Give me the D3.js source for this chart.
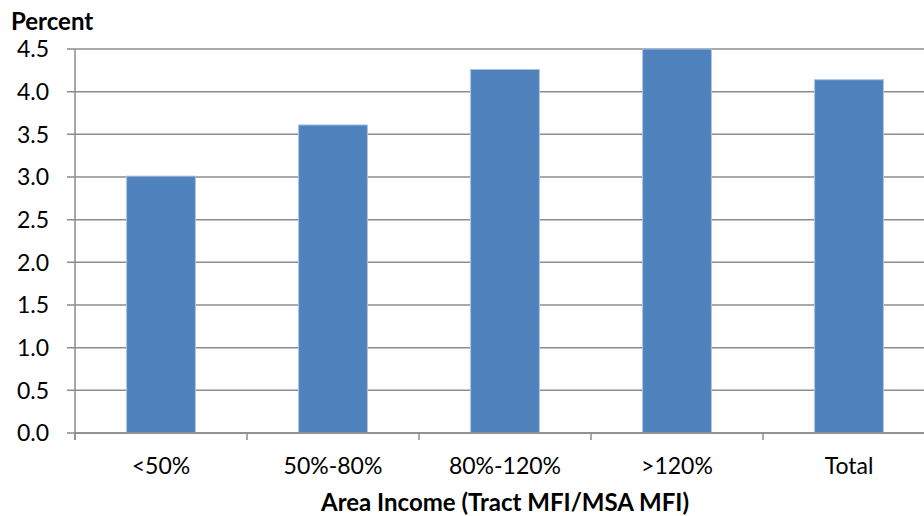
<!DOCTYPE html>
<html>
<head>
<meta charset="utf-8">
<script src="https://cdn.jsdelivr.net/npm/d3@7"></script>
<style>
  html, body { margin: 0; padding: 0; background: #fff; }
  svg { display: block; font-family: Lato, "Open Sans", sans-serif; }
</style>
</head>
<body>
<svg id="chart" width="924" height="516"></svg>
<script>
// Share by tract income group
const categories = ["<50%", "50%-80%", "80%-120%", ">120%", "Total"];
const values = [3.01, 3.61, 4.26, 4.5, 4.14];
const yTicks = [0, 0.5, 1.0, 1.5, 2.0, 2.5, 3.0, 3.5, 4.0, 4.5];

const svg = d3.select("#chart");
const plotLeft = 75, plotRight = 935, plotTop = 49, plotBottom = 433;

const x = d3.scaleBand().domain(categories).range([plotLeft, plotRight])
  .paddingInner(0.6).paddingOuter(0.3);
const y = d3.scaleLinear().domain([0, 4.5]).range([plotBottom, plotTop]);

const gridColor = "#8c8c8c";
const tickSize = 23;
const titleSize = 24;

// horizontal gridlines with short left ticks
svg.append("g").selectAll("line").data(yTicks).join("line")
  .attr("x1", plotLeft - 8).attr("x2", 924)
  .attr("y1", d => y(d)).attr("y2", d => y(d))
  .attr("stroke", gridColor).attr("stroke-width", 1.5);

// y tick labels
svg.append("g").selectAll("text").data(yTicks).join("text")
  .attr("x", 49).attr("y", d => y(d))
  .attr("dy", "0.36em")
  .attr("text-anchor", "end")
  .attr("font-size", tickSize).attr("fill", "#000")
  .text(d => d3.format(".1f")(d));

// bars
svg.append("g").selectAll("rect").data(values).join("rect")
  .attr("x", (d, i) => x(categories[i]))
  .attr("y", d => y(d))
  .attr("width", x.bandwidth())
  .attr("height", d => y(0) - y(d))
  .attr("fill", "#4f81bd")
  .attr("stroke", "#a9c2e3").attr("stroke-width", 1);

// y axis line
svg.append("line")
  .attr("x1", plotLeft).attr("x2", plotLeft).attr("y1", plotTop).attr("y2", plotBottom + 7)
  .attr("stroke", gridColor).attr("stroke-width", 1.5);

// x axis line
svg.append("line")
  .attr("x1", plotLeft).attr("x2", 924).attr("y1", plotBottom).attr("y2", plotBottom)
  .attr("stroke", gridColor).attr("stroke-width", 1.5);

// category boundary ticks
const step = x.step();
const boundaries = d3.range(categories.length + 1).map(i => plotLeft + i * step);
svg.append("g").selectAll("line").data(boundaries).join("line")
  .attr("x1", d => d).attr("x2", d => d)
  .attr("y1", plotBottom).attr("y2", plotBottom + 7)
  .attr("stroke", gridColor).attr("stroke-width", 1.5);

// category labels
svg.append("g").selectAll("text").data(categories).join("text")
  .attr("x", d => x(d) + x.bandwidth() / 2)
  .attr("y", 474)
  .attr("text-anchor", "middle")
  .attr("font-size", tickSize).attr("fill", "#000")
  .text(d => d);

// axis titles
svg.append("text")
  .attr("x", 11).attr("y", 30)
  .attr("font-size", titleSize).attr("font-weight", "bold")
  .text("Percent");

svg.append("text")
  .attr("x", 505).attr("y", 511)
  .attr("text-anchor", "middle")
  .attr("font-size", titleSize).attr("font-weight", "bold")
  .text("Area Income (Tract MFI/MSA MFI)");
</script>
</body>
</html>
